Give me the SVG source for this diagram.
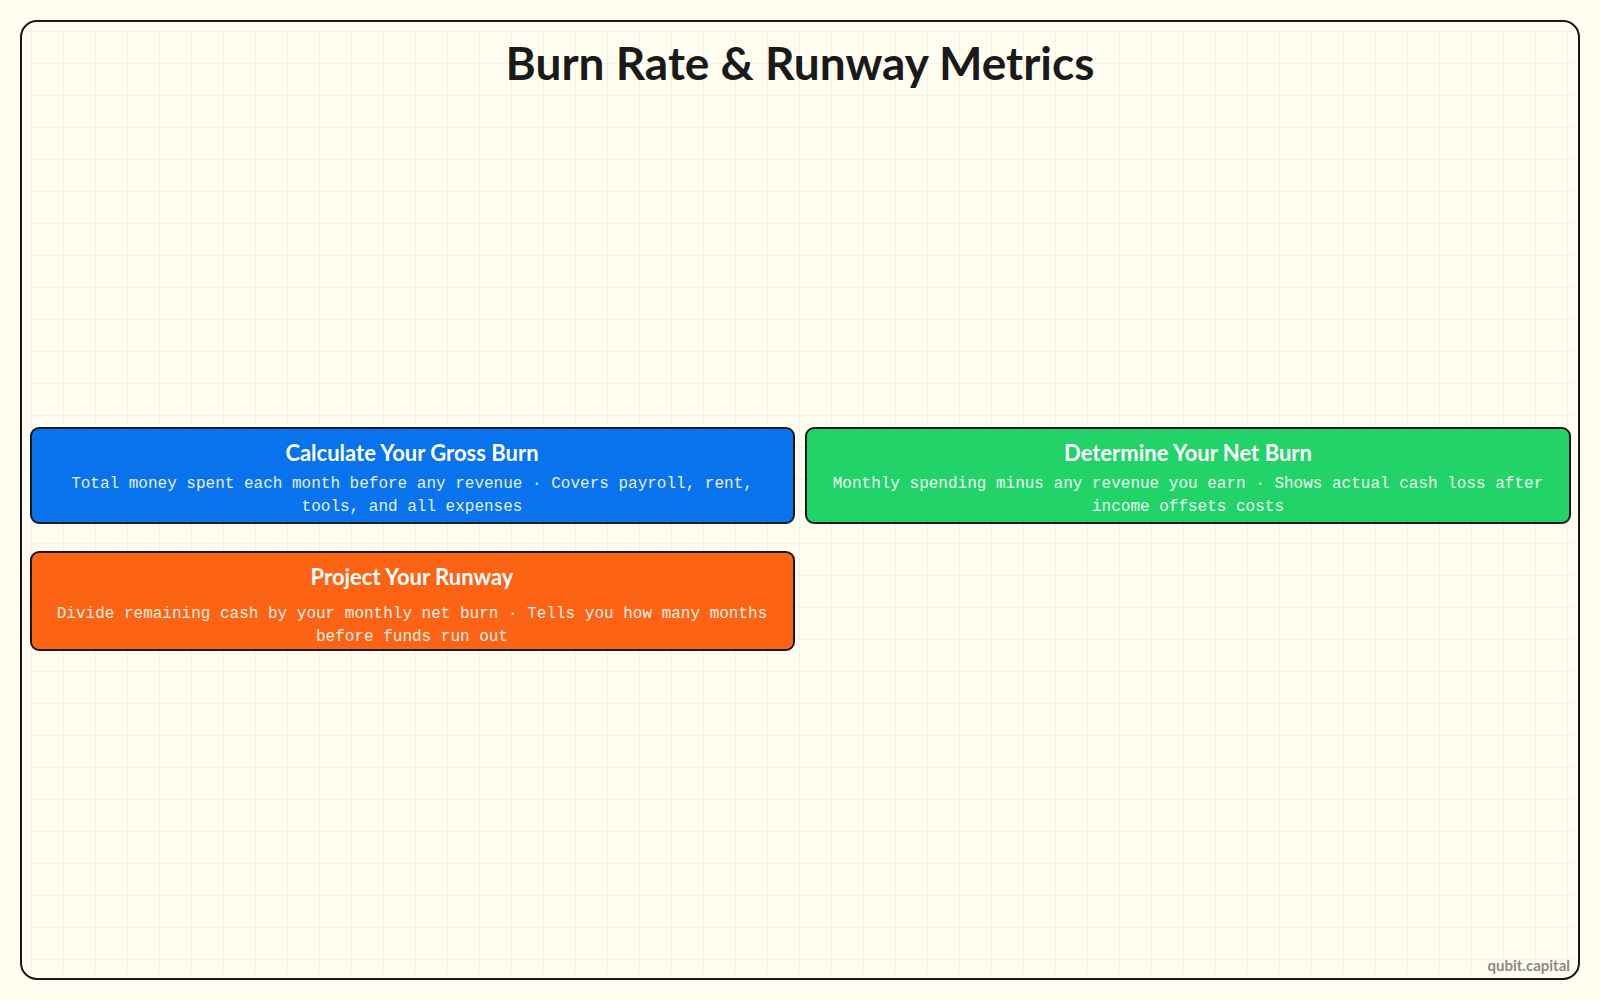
<svg xmlns="http://www.w3.org/2000/svg" width="1600" height="1000" viewBox="0 0 1600 1000">
<defs>
<pattern id="grid" width="32" height="32" patternUnits="userSpaceOnUse"><path d="M32 0V32H0" fill="none" stroke="#e9e7dc" stroke-width="1"/></pattern>
<style>
.box{stroke:#1a1a1a;stroke-width:2}
.t{font-family:Lato,"Noto Sans",sans-serif;font-weight:bold;font-size:22px;fill:#fff;text-anchor:middle}
.d{font-family:"Liberation Mono","DejaVu Sans Mono",monospace;font-size:16px;text-anchor:middle}
</style>
</defs>
<rect width="1600" height="1000" fill="#fffdf0"/>
<rect x="28" y="28" width="1544" height="944" fill="url(#grid)"/>
<rect x="21" y="21" width="1558" height="958" rx="16" fill="none" stroke="#1a1a1a" stroke-width="2"/>
<text x="800" y="80" text-anchor="middle" font-family="Lato,'Noto Sans',sans-serif" font-weight="bold" font-size="46" fill="#1a1a1a">Burn Rate &amp; Runway Metrics</text>
<g id="connectors"/>
<g id="gross">
<rect class="box" x="31" y="428" width="763" height="95" rx="8" fill="#0873ec"/>
<text class="t" x="412" y="461">Calculate Your Gross Burn</text>
<text class="d" x="412" y="488" fill="#e6f0ff">Total money spent each month before any revenue · Covers payroll, rent,</text>
<text class="d" x="412" y="511" fill="#e6f0ff">tools, and all expenses</text>
</g>
<g id="net">
<rect class="box" x="806" y="428" width="764" height="95" rx="8" fill="#22d36a"/>
<text class="t" x="1188" y="461">Determine Your Net Burn</text>
<text class="d" x="1188" y="488" fill="#eafff2">Monthly spending minus any revenue you earn · Shows actual cash loss after</text>
<text class="d" x="1188" y="511" fill="#eafff2">income offsets costs</text>
</g>
<g id="runway">
<rect class="box" x="31" y="552" width="763" height="98" rx="8" fill="#fd6314"/>
<text class="t" x="412" y="585">Project Your Runway</text>
<text class="d" x="412" y="618" fill="#fff0e6">Divide remaining cash by your monthly net burn · Tells you how many months</text>
<text class="d" x="412" y="641" fill="#fff0e6">before funds run out</text>
</g>
<text x="1570" y="971" text-anchor="end" font-family="Lato,sans-serif" font-weight="bold" font-size="15" fill="#8a8a8a">qubit.capital</text>
</svg>
